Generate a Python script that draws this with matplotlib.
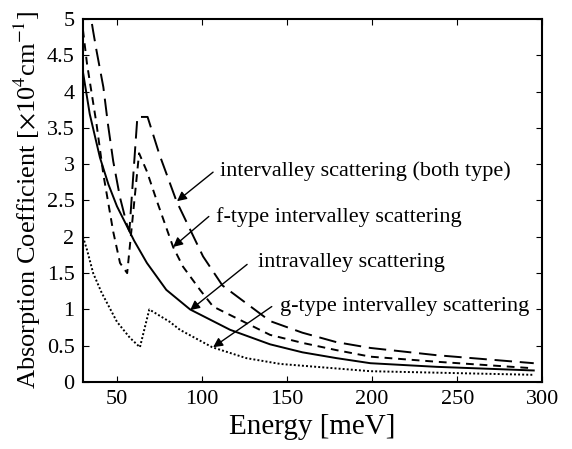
import matplotlib
matplotlib.use("Agg")
import matplotlib.pyplot as plt

plt.rcParams.update({
    "font.family": ["Liberation Serif", "DejaVu Serif"],
    "mathtext.fontset": "stix",
    "xtick.direction": "in",
    "ytick.direction": "in",
    "xtick.top": True,
    "ytick.right": True,
    "xtick.major.size": 4,
    "ytick.major.size": 4,
    "axes.linewidth": 1.5,
})

# intravalley scattering (solid)
intra_x = [30, 34, 40, 45, 50, 56, 60, 67.6, 79, 93, 116.5, 140, 159, 179, 199, 238, 295]
intra_y = [4.27, 3.69, 3.09, 2.72, 2.42, 2.14, 1.95, 1.64, 1.27, 1.0, 0.72, 0.52, 0.41, 0.33, 0.26, 0.21, 0.16]

# f-type intervalley scattering (short dash)
f_x = [30, 32.4, 38, 42, 47.8, 51.8, 56, 63, 67.6, 73.5, 83, 88.8, 98.8, 106.5, 140, 159, 179, 199, 238, 295]
f_y = [4.85, 4.38, 3.55, 2.86, 2.07, 1.64, 1.5, 3.15, 2.9, 2.49, 1.86, 1.59, 1.27, 1.04, 0.65, 0.54, 0.44, 0.35, 0.28, 0.19]

# intervalley scattering, both types (long dash)
both_x = [30, 36, 38, 42, 44.7, 47.8, 51.8, 55.8, 57.3, 62, 68, 75, 85, 93, 100.6, 112, 140, 159, 179, 199, 238, 295]
both_y = [5.7, 4.83, 4.56, 4.06, 3.55, 3.04, 2.54, 2.17, 2.08, 3.65, 3.65, 3.13, 2.49, 2.1, 1.73, 1.33, 0.84, 0.68, 0.55, 0.47, 0.37, 0.26]

# g-type intervalley scattering (dotted)
g_x = [30, 32.4, 36, 41, 50, 57.6, 63.5, 69, 81, 87, 106, 126, 146, 199, 295]
g_y = [2.0, 1.82, 1.5, 1.23, 0.83, 0.61, 0.48, 1.0, 0.83, 0.72, 0.48, 0.33, 0.25, 0.15, 0.10]

# annotations: text, text position, arrow tail, arrow tip
notes = [
    ("intervalley scattering (both type)", (110.6, 2.90), (106.5, 2.89), (85.3, 2.49)),
    ("f-type intervalley scattering", (108.0, 2.27), (104.0, 2.28), (83.0, 1.86)),
    ("intravalley scattering", (133.0, 1.64), (126.5, 1.62), (93.0, 0.99)),
    ("g-type intervalley scattering", (146.0, 1.04), (141.0, 1.04), (106.5, 0.48)),
]

fig, ax = plt.subplots(figsize=(5.72, 4.49), dpi=100)

ax.plot(intra_x, intra_y, color="black", lw=1.4, linestyle="-")
ax.plot(f_x, f_y, color="black", lw=1.4, linestyle=(0, (4, 3)))
ax.plot(both_x, both_y, color="black", lw=1.4, linestyle=(0, (9, 4)))
ax.plot(g_x, g_y, color="black", lw=1.4, linestyle=(0, (1, 1.1)))

for txt, (tx, ty), tail, tip in notes:
    ax.text(tx, ty, txt, fontsize=16, ha="left", va="center")
    ax.annotate("", xy=tip, xytext=tail,
                arrowprops=dict(arrowstyle="-|>", color="black", lw=1.0,
                                mutation_scale=14, shrinkA=0, shrinkB=0))

ax.set_xlim(30, 300)
ax.set_ylim(0, 5)
ax.set_xticks([50, 100, 150, 200, 250, 300])
ax.set_yticks([0, 0.5, 1, 1.5, 2, 2.5, 3, 3.5, 4, 4.5, 5])
ax.set_yticklabels(["0", "0.5", "1", "1.5", "2", "2.5", "3", "3.5", "4", "4.5", "5"])
ax.tick_params(axis="both", labelsize=16, pad=6)

ax.set_xlabel("Energy [meV]", fontsize=21, labelpad=3)
ax.set_ylabel(r"Absorption Coefficient [$\times$10$^4$cm$^{-1}$]", fontsize=19, labelpad=3)

plt.subplots_adjust(left=0.145, right=0.948, bottom=0.149, top=0.958)
fig.savefig("out.png", dpi=100)
